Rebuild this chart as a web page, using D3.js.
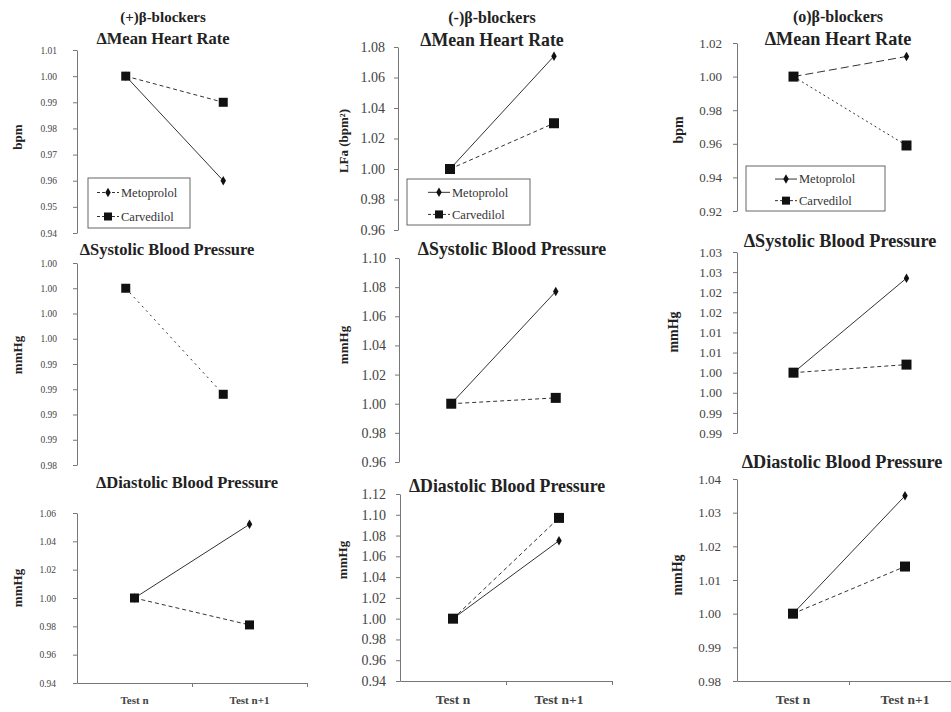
<!DOCTYPE html>
<html>
<head>
<meta charset="utf-8">
<script src="https://cdn.jsdelivr.net/npm/d3@7"></script>
<style>
  body { margin: 0; background: #fff; }
  svg text { font-family: 'Liberation Serif', 'Times New Roman', serif; }
  .tick text { fill: #444; }
  .domain, .tick line { stroke: #777; }
</style>
</head>
<body>
<svg id="chart" width="951" height="712"></svg>
<script>
const categories = ['Test n', 'Test n+1'];
const seriesNames = ['Metoprolol', 'Carvedilol'];

// Mean heart rate
const hrPlusMet = [1.00, 0.96];
const hrPlusCarv = [1.00, 0.99];
const hrMinusMet = [1.00, 1.074];
const hrMinusCarv = [1.00, 1.03];
const hrZeroMet = [1.00, 1.012];
const hrZeroCarv = [1.00, 0.959];

// systolic
const sbpPlusCarv = [1.00, 0.9895];
const sbpMinusMet = [1.00, 1.077];
const sbpMinusCarv = [1.00, 1.004];
const sbpZeroMet = [1.00, 1.0235];
const sbpZeroCarv = [1.00, 1.002];

// diastolic
const dbpPlusMet = [1.00, 1.052];
const dbpPlusCarv = [1.00, 0.981];
const dbpMinusMet = [1.00, 1.075];
const dbpMinusCarv = [1.00, 1.097];
const dbpZeroMet = [1.00, 1.035];
const dbpZeroCarv = [1.00, 1.014];

// tick values
const ticksHrPlus = [0.94, 0.95, 0.96, 0.97, 0.98, 0.99, 1.00, 1.01];
const ticksHrMinus = [0.96, 0.98, 1.00, 1.02, 1.04, 1.06, 1.08];
const ticksHrZero = [0.92, 0.94, 0.96, 0.98, 1.00, 1.02];
const ticksSbpPlus = [0.9825, 0.985, 0.9875, 0.99, 0.9925, 0.995, 0.9975, 1.00, 1.0025];
const ticksSbpMinus = [0.96, 0.98, 1.00, 1.02, 1.04, 1.06, 1.08, 1.10];
const ticksSbpZero = [0.985, 0.99, 0.995, 1.00, 1.005, 1.01, 1.015, 1.02, 1.025, 1.03];
const ticksDbpPlus = [0.94, 0.96, 0.98, 1.00, 1.02, 1.04, 1.06];
const ticksDbpMinus = [0.94, 0.96, 0.98, 1.00, 1.02, 1.04, 1.06, 1.08, 1.10, 1.12];
const ticksDbpZero = [0.98, 0.99, 1.00, 1.01, 1.02, 1.03, 1.04];

const SERIF = "'Liberation Serif', 'Times New Roman', serif";

// excel style rounding (half up)
const fmt = v => (Math.round(v * 100 + 1e-9) / 100).toFixed(2);

// each column of the figure was a separately scaled chart
const colFonts = [
  {tick: 9.5, t1: 15, t2: 16.5, yl: 13, xl: 11},
  {tick: 14, t1: 16, t2: 17.8, yl: 13, xl: 13.5},
  {tick: 13, t1: 16, t2: 18.2, yl: 14, xl: 13.5}
];

const panels = [
  {col: 0, title: ['(+)β-blockers', 'ΔMean Heart Rate'], met: hrPlusMet, carv: hrPlusCarv, ticks: ticksHrPlus, ylabel: 'bpm',
   ax: 77, right: 272, top: 50, bottom: 233, pad: 16, tx: 163, ty: [22, 44], lx: 17, ly: 137,
   legend: {x: 88, y: 178, w: 102, h: 50, off: 9, dash: '3,2'}},
  {col: 1, title: ['(-)β-blockers', 'ΔMean Heart Rate'], met: hrMinusMet, carv: hrMinusCarv, ticks: ticksHrMinus, ylabel: 'LFa (bpm²)',
   ax: 398, right: 606, top: 47, bottom: 230, pad: 9, tx: 492, ty: [23, 46], lx: 343, ly: 141,
   legend: {x: 407, y: 179, w: 123, h: 46, off: 21}},
  {col: 2, title: ['(o)β-blockers', 'ΔMean Heart Rate'], met: hrZeroMet, carv: hrZeroCarv, ticks: ticksHrZero, ylabel: 'bpm',
   ax: 737, right: 963, top: 43, bottom: 211, pad: 11, tx: 838, ty: [22, 45], lx: 678, ly: 130,
   legend: {x: 746, y: 166, w: 139, h: 45, off: 29}, metDash: '8,4', carvDash: '2,3'},
  {col: 0, title: ['ΔSystolic Blood Pressure'], met: null, carv: sbpPlusCarv, ticks: ticksSbpPlus, ylabel: 'mmHg',
   ax: 77, right: 272, top: 263, bottom: 465, pad: 16, tx: 167, ty: [255], lx: 17, ly: 355, carvDash: '2,4'},
  {col: 1, title: ['ΔSystolic Blood Pressure'], met: sbpMinusMet, carv: sbpMinusCarv, ticks: ticksSbpMinus, ylabel: 'mmHg',
   ax: 399, right: 608, top: 258, bottom: 462, pad: 9, tx: 512, ty: [255], lx: 343, ly: 345},
  {col: 2, title: ['ΔSystolic Blood Pressure'], met: sbpZeroMet, carv: sbpZeroCarv, ticks: ticksSbpZero, ylabel: 'mmHg',
   ax: 737, right: 963, top: 252, bottom: 433, pad: 11, tx: 840, ty: [247], lx: 673, ly: 332},
  {col: 0, title: ['ΔDiastolic Blood Pressure'], met: dbpPlusMet, carv: dbpPlusCarv, ticks: ticksDbpPlus, ylabel: 'mmHg',
   ax: 77, right: 307, top: 513, bottom: 683, pad: 17, tx: 187, ty: [488], lx: 17, ly: 588, xAxis: true},
  {col: 1, title: ['ΔDiastolic Blood Pressure'], met: dbpMinusMet, carv: dbpMinusCarv, ticks: ticksDbpMinus, ylabel: 'mmHg',
   ax: 400, right: 612, top: 494, bottom: 681, pad: 10, tx: 507, ty: [492], lx: 342, ly: 560, xAxis: true},
  {col: 2, title: ['ΔDiastolic Blood Pressure'], met: dbpZeroMet, carv: dbpZeroCarv, ticks: ticksDbpZero, ylabel: 'mmHg',
   ax: 737, right: 961, top: 479, bottom: 681, pad: 12, tx: 842, ty: [468], lx: 677, ly: 575, xAxis: true}
];

const svg = d3.select('#chart');

function diamond(g, x, y) {
  g.append('path')
    .attr('d', d3.symbol(d3.symbolDiamond, 26)())
    .attr('transform', `translate(${x},${y})`)
    .attr('fill', '#111');
}

function square(g, x, y, s) {
  g.append('rect')
    .attr('x', x - s / 2).attr('y', y - s / 2)
    .attr('width', s).attr('height', s)
    .attr('fill', '#111');
}

function drawPanel(p) {
  const g = svg.append('g');
  const f = colFonts[p.col];
  const sq = p.col === 0 ? 9 : 10;
  const tks = p.ticks;

  const y = d3.scaleLinear()
    .domain([d3.min(tks), d3.max(tks)])
    .range([p.bottom, p.top]);

  const x = d3.scalePoint()
    .domain(categories)
    .range([p.ax, p.right])
    .padding(0.5);

  g.append('g')
    .attr('transform', `translate(${p.ax},0)`)
    .call(d3.axisLeft(y).tickValues(tks).tickFormat(fmt).tickSize(4).tickSizeOuter(0).tickPadding(p.pad))
    .call(a => a.selectAll('text').style('font-family', SERIF).style('font-size', f.tick + 'px'));

  if (p.xAxis) {
    const xb = d3.scaleBand().domain(categories).range([p.ax, p.right]);
    g.append('g')
      .attr('transform', `translate(0,${p.bottom})`)
      .call(d3.axisBottom(xb).tickSize(0).tickPadding(13))
      .call(a => a.selectAll('text').style('font-family', SERIF).style('font-size', f.xl + 'px')
        .style('font-weight', 'bold').attr('fill', '#222'));
    // tick marks on the category boundaries
    const xl = d3.scaleLinear().domain([0, 2]).range([p.ax, p.right]);
    g.append('g')
      .attr('transform', `translate(0,${p.bottom})`)
      .call(d3.axisBottom(xl).tickValues([1, 2]).tickFormat('').tickSize(4).tickSizeOuter(0))
      .call(a => a.select('.domain').remove());
  }

  // titles
  p.title.forEach((t, i) => {
    g.append('text')
      .attr('x', p.tx).attr('y', p.ty[i])
      .attr('text-anchor', 'middle')
      .style('font-family', SERIF)
      .style('font-size', (i === 0 && p.title.length > 1 ? f.t1 : f.t2) + 'px')
      .style('font-weight', 'bold')
      .attr('fill', '#222')
      .text(t);
  });

  g.append('text')
    .attr('transform', `translate(${p.lx},${p.ly}) rotate(-90)`)
    .attr('text-anchor', 'middle')
    .attr('dy', '0.35em')
    .style('font-family', SERIF)
    .style('font-size', f.yl + 'px')
    .style('font-weight', 'bold')
    .attr('fill', '#222')
    .text(p.ylabel);

  const line = d3.line()
    .x((d, i) => x(categories[i]))
    .y(d => y(d));

  if (p.carv) {
    g.append('path')
      .datum(p.carv)
      .attr('d', line)
      .attr('fill', 'none')
      .attr('stroke', '#333')
      .attr('stroke-width', 1)
      .attr('stroke-dasharray', p.carvDash || '4,3');
  }
  if (p.met) {
    g.append('path')
      .datum(p.met)
      .attr('d', line)
      .attr('fill', 'none')
      .attr('stroke', '#333')
      .attr('stroke-width', 1)
      .attr('stroke-dasharray', p.metDash || null);
    p.met.forEach((v, i) => diamond(g, x(categories[i]), y(v)));
  }
  if (p.carv) {
    p.carv.forEach((v, i) => square(g, x(categories[i]), y(v), sq));
  }

  if (p.legend) {
    const L = p.legend;
    const lg = g.append('g').attr('transform', `translate(${L.x},${L.y})`);
    lg.append('rect')
      .attr('width', L.w).attr('height', L.h)
      .attr('fill', '#fff').attr('stroke', '#666');
    seriesNames.forEach((name, i) => {
      const yy = L.h * (i === 0 ? 0.29 : 0.77);
      lg.append('line')
        .attr('x1', L.off).attr('x2', L.off + 22).attr('y1', yy).attr('y2', yy)
        .attr('stroke', '#333')
        .attr('stroke-dasharray', L.dash || (i === 0 ? null : '3,2'));
      if (i === 0) diamond(lg, L.off + 11, yy); else square(lg, L.off + 11, yy, 8);
      lg.append('text')
        .attr('x', L.off + 24).attr('y', yy).attr('dy', '0.35em')
        .style('font-family', SERIF)
        .style('font-size', '12.5px')
        .attr('fill', '#333')
        .text(name);
    });
  }
}

panels.forEach(drawPanel);
</script>
</body>
</html>
